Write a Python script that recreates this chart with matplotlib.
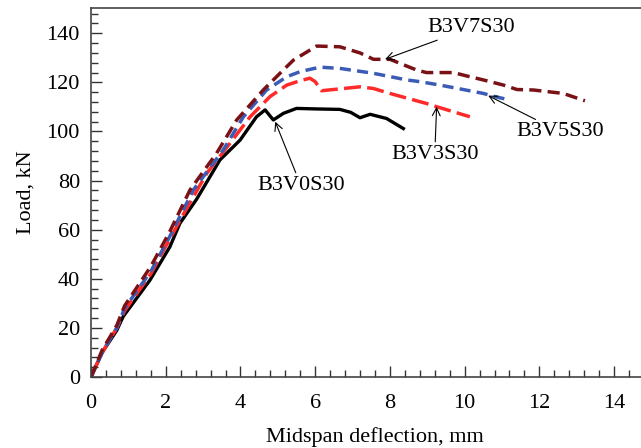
import numpy as np
import matplotlib.pyplot as plt
from matplotlib.ticker import MultipleLocator

plt.rcParams['font.family'] = ['Liberation Serif', 'DejaVu Serif']
plt.rcParams['font.size'] = 16

# B3V0S30 - control beam
x_v0 = [0, 0.3, 0.69, 0.86, 1.58, 2.11, 2.38, 2.83, 3.45, 3.99, 4.43, 4.66,
        4.88, 5.15, 5.5, 6.0, 6.66, 6.95, 7.2, 7.47, 7.91, 8.36]
y_v0 = [0, 10, 19, 24.6, 39.5, 53, 62.6, 72.5, 88.4, 96.5, 106, 108.8,
        104.7, 107.4, 109.4, 109.2, 109, 107.8, 105.6, 107, 105.3, 101.2]

# B3V3S30
x_v3 = [0, 0.3, 0.69, 0.9, 1.6, 2.1, 2.5, 3.1, 3.72, 4.26, 4.79, 5.24,
        5.6, 5.86, 6.0, 6.17, 6.49, 7.2, 7.56, 8.0, 8.98, 9.25, 10.14]
y_v3 = [0, 10, 20, 27, 42, 56, 67, 83, 95.2, 106, 114.2, 118.9,
        120.7, 121.7, 120.3, 116.6, 117.1, 118.2, 117.5, 115.5, 111.4, 110.1, 106]

# B3V5S30
x_v5 = [0, 0.3, 0.69, 0.9, 1.6, 2.1, 2.74, 3.54, 4.08, 4.7, 5.24, 5.6,
        6.13, 6.66, 7.56, 8.45, 8.8, 9.34, 9.79, 10.5, 10.81, 11.13]
y_v5 = [0, 10, 20, 28, 43, 57, 76.2, 92.5, 106, 116.9, 122.3, 124.4,
        126.2, 125.7, 123.7, 121, 120.3, 118.9, 117.6, 115.5, 114.2, 113.1]

# B3V7S30
x_v7 = [0, 0.3, 0.69, 0.9, 1.6, 2.1, 2.65, 3.36, 3.9, 4.61, 5.15, 5.42, 6.04,
        6.66, 7.2, 7.56, 8.0, 8.72, 8.98, 9.7, 10.06, 10.5, 11.04, 11.4, 11.84,
        12.64, 13.22]
y_v7 = [0, 11, 21, 29, 45, 59, 76.2, 91.1, 104.7, 116.9, 125.1, 129.1, 134.8,
        134.5, 132, 129.4, 129.4, 125, 124, 124, 122.6, 121, 118.9, 117.1, 116.9,
        115.5, 112.5]

labels = ['B3V0S30', 'B3V3S30', 'B3V5S30', 'B3V7S30']
arrow_tips = [(4.93, 104), (9.25, 110.1), (10.63, 114.6), (7.87, 129.4)]
text_pos = [(4.44, 78.2), (8.03, 90.8), (11.38, 99.9), (8.99, 142.2)]

fig = plt.figure(figsize=(6.41, 4.48), dpi=100)
ax = fig.add_axes([91/641, 1-377/448, 1-91/641, (377-8)/448])

ax.plot(x_v0, y_v0, color='black', lw=2.4, solid_joinstyle='round')
ax.plot(x_v3, y_v3, color='#ff2a2a', lw=2.5, dashes=(4.9, 1.8))
ax.plot(x_v5, y_v5, color='#3c5bb5', lw=2.5, dashes=(3.2, 1.8))
ax.plot(x_v7, y_v7, color='#7a1215', lw=2.5, dashes=(3.5, 1.8))

for lab, tip, tp in zip(labels, arrow_tips, text_pos):
    ax.annotate(lab, xy=tip, xytext=tp, ha='left', va='center', fontsize=16,
                arrowprops=dict(arrowstyle='->', color='black', lw=0.8,
                                shrinkA=0, shrinkB=0, mutation_scale=14),
                annotation_clip=False)

ax.set_xlim(0, 14.72)
ax.set_ylim(0, 150.3)
ax.xaxis.set_major_locator(MultipleLocator(2))
ax.xaxis.set_minor_locator(MultipleLocator(0.4))
ax.yaxis.set_major_locator(MultipleLocator(20))
ax.yaxis.set_minor_locator(MultipleLocator(4))
ax.tick_params(which='both', direction='in', colors='#333333', labelcolor='black')
ax.tick_params(which='major', length=8, width=1)
ax.tick_params(which='minor', length=5, width=1)
ax.tick_params(axis='x', which='major', pad=12)
ax.tick_params(axis='y', which='major', pad=8)
for s in ['left', 'bottom', 'top']:
    ax.spines[s].set_color('#444444')
    ax.spines[s].set_linewidth(1.2)
ax.spines['right'].set_visible(False)

ax.set_xlabel('Midspan deflection, mm', labelpad=9)
ax.xaxis.set_label_coords(0.517, -0.135)
ax.set_ylabel('Load, kN', labelpad=8)

fig.savefig('out.png', dpi=100)
